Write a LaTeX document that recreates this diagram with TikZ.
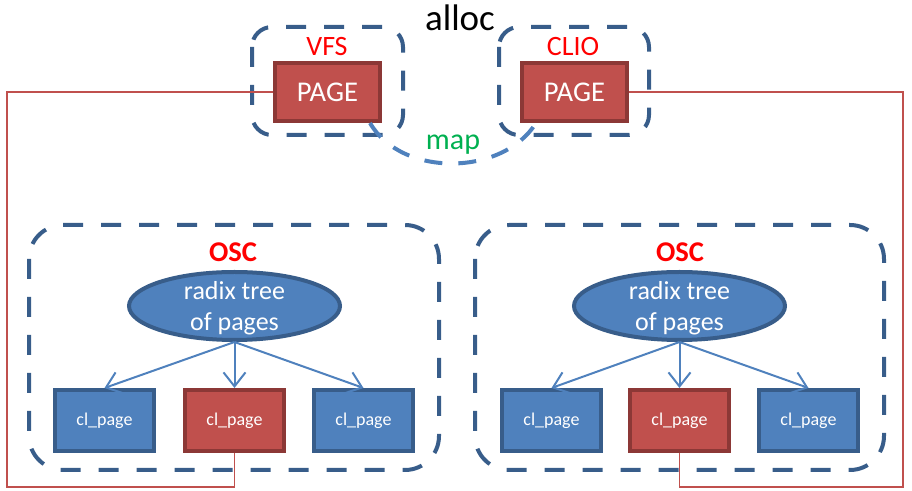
\documentclass[tikz,border=0pt]{standalone}
\usepackage{fontspec}
\setmainfont{Carlito}
\usetikzlibrary{positioning,shapes.geometric,arrows.meta}
\definecolor{boxblue}{HTML}{4F81BD}
\definecolor{boxblueline}{HTML}{385D8A}
\definecolor{boxred}{HTML}{C0504D}
\definecolor{boxredline}{HTML}{8C3836}
\definecolor{mapgreen}{HTML}{00B050}

\begin{document}
\begin{tikzpicture}[x=0.5pt, y=-0.5pt,
    pagebox/.style={draw=boxredline, fill=boxred, line width=2pt, minimum width=52.5pt, minimum height=29pt, text=white, font=\fontsize{14.3}{17}\selectfont},
    clblue/.style={draw=boxblueline, fill=boxblue, line width=2pt, minimum width=49.5pt, minimum height=30.5pt, text=white, font=\fontsize{9}{11}\selectfont},
    clred/.style={clblue, draw=boxredline, fill=boxred},
    treenode/.style={ellipse, draw=boxblueline, fill=boxblue, line width=2pt, minimum width=105.5pt, minimum height=34pt, inner sep=0pt},
    treetext/.style={inner sep=0pt, align=center, text=white, font=\fontsize{13}{15.5}\selectfont},
    group/.style={draw=boxblueline, line width=2pt, dash pattern=on 10pt off 9pt},
    grouplabel/.style={text=red, inner sep=0pt, font=\fontsize{14}{17}\selectfont},
    osclabel/.style={text=red, inner sep=0pt, font=\fontsize{14.3}{17}\selectfont\bfseries},
    maparc/.style={draw=boxblue, line width=2pt, dash pattern=on 9pt off 8pt},
    treearrow/.style={draw=boxblue, line width=1pt, -{Straight Barb[length=7pt,width=11pt]}},
    link/.style={draw=boxred, line width=0.75pt}]
    \useasboundingbox (0,0) rectangle (912,491);

    % alloc side
    \node[inner sep=0pt, font=\fontsize{18.5}{22}\selectfont] (alloc) at (460,18) {alloc};
    \draw[group, rounded corners=10pt] (252,27) rectangle (403,135);
    \draw[group, rounded corners=10pt] (499,27) rectangle (649,135);
    \node[grouplabel] (vfs) at (327,47) {VFS};
    \node[grouplabel] (clio) at (573,47) {CLIO};
    \node[pagebox] (vfspage) at (327.5,92) {PAGE};
    \node[pagebox] (cliopage) at (574.5,92) {PAGE};

    % map
    \draw[maparc] ([xshift=-6pt]vfspage.south east) .. controls +(32,55) and +(-33,53) .. ([xshift=8pt]cliopage.south west);
    \node[inner sep=0pt, text=mapgreen, font=\fontsize{15}{18}\selectfont] (map) at (453,145) {map};

    % left OSC
    \draw[group, rounded corners=17pt] (29,225) rectangle (439,470);
    \node[osclabel] (losc) at (233,252) {OSC};
    \node[treenode] (ltree) at (234.5,306) {};
    \node[treetext] (ltreetext) at (234.5,308) {radix tree\\of pages};
    \node[clred, below=23pt of ltree] (lmid) {cl\_page};
    \node[clblue, left=13.5pt of lmid] (lleft) {cl\_page};
    \node[clblue, right=13pt of lmid] (lright) {cl\_page};

    % right OSC
    \draw[group, rounded corners=17pt] (475,225) rectangle (884,470);
    \node[osclabel] (rosc) at (680,252) {OSC};
    \node[treenode] (rtree) at (679.5,306) {};
    \node[treetext] (rtreetext) at (679.5,308) {radix tree\\of pages};
    \node[clred, below=23pt of rtree] (rmid) {cl\_page};
    \node[clblue, left=12.5pt of rmid] (rleft) {cl\_page};
    \node[clblue, right=13pt of rmid] (rright) {cl\_page};

    % Arrows
    \draw[treearrow] (ltree.south) -- (lleft.north);
    \draw[treearrow] (ltree.south) -- (lmid.north);
    \draw[treearrow] (ltree.south) -- (lright.north);
    \draw[treearrow] (rtree.south) -- (rleft.north);
    \draw[treearrow] (rtree.south) -- (rmid.north);
    \draw[treearrow] (rtree.south) -- (rright.north);

    % page links
    \draw[link] (vfspage.west) -| (7,487) -| (lmid.south);
    \draw[link] (cliopage.east) -| (903,487) -| (rmid.south);
\end{tikzpicture}
\end{document}
